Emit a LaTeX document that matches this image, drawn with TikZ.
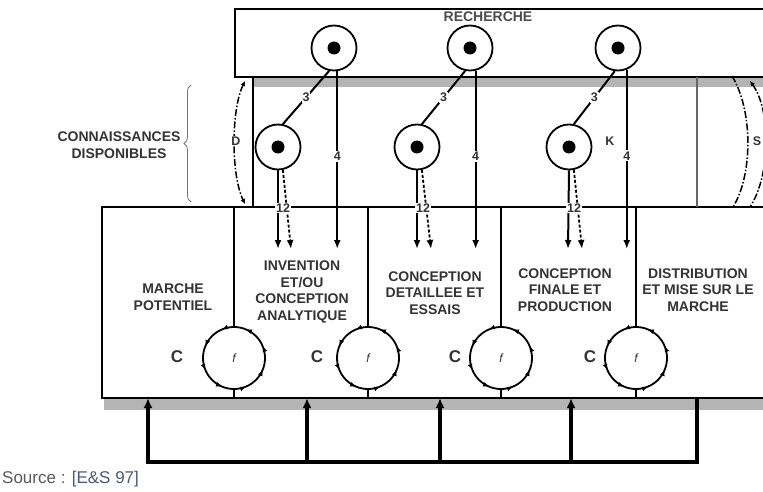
\documentclass[tikz,border=0pt]{standalone}
\usepackage{fontspec}
\setmainfont{Liberation Sans}
\usetikzlibrary{arrows.meta,decorations.markings,decorations.pathreplacing}
\definecolor{txt}{HTML}{333333}
\definecolor{src}{HTML}{5A5A5A}
\definecolor{srcb}{HTML}{4A5878}
\definecolor{shadow}{HTML}{B4B4B4}
\begin{document}
\begin{tikzpicture}[x=1pt,y=-1pt,
  box/.style={draw=black, line width=2.2pt},
  lbl/.style={font=\fontsize{14}{16.8}\selectfont\bfseries, text=txt, align=center, inner sep=0pt},
  nlab/.style={font=\fontsize{12.5}{13}\selectfont\bfseries, text=txt, fill=white, inner sep=1pt},
  clab/.style={font=\fontsize{17}{19}\selectfont\bfseries, text=txt},
  rc/.style={circle, draw, line width=1.8pt, minimum size=45pt, inner sep=0pt},
  dotc/.style={circle, fill=black, minimum size=13pt, inner sep=0pt},
  fc/.style={circle, draw, line width=1.8pt, minimum size=62pt, inner sep=0pt,
    font=\fontsize{12}{13}\selectfont\itshape, text=txt,
    postaction={decorate},
    decoration={markings, mark=between positions 0.0625 and 1 step 0.125 with {\arrow{Latex[length=6pt,width=5pt]}}}},
  ln/.style={line width=2pt},
  arr/.style={line width=2pt, -{Latex[length=9pt,width=7pt]}},
  darr/.style={line width=1.8pt, dash pattern=on 3pt off 2pt, -{Latex[length=9pt,width=7pt]}},
  arc/.style={line width=1.5pt, dash pattern=on 7pt off 2pt on 1.5pt off 2pt},
  fb/.style={line width=3.2pt},
  fbarr/.style={line width=3.2pt, -{Latex[length=10pt,width=9pt]}},
]
\useasboundingbox (0,0) rectangle (763,492);

% shadows
\fill[shadow] (253,78) rectangle (790,87);
\fill[shadow] (104,399) rectangle (790,410);

% boxes
\draw[box] (235,9) rectangle (790,77);
\draw[box] (102,207) rectangle (790,398);
\node[lbl, text=black!70] (rech) at (488,17) {RECHERCHE};

% reference coordinates
\coordinate (lowtop) at (0,207);
\coordinate (lowbot) at (0,398);
\coordinate (e4a) at (337,249);
\coordinate (e4b) at (475,249);
\coordinate (e4c) at (626,249);
\coordinate (e12a) at (278,249);
\coordinate (e12b) at (417,249);
\coordinate (e12c) at (568,249);
\coordinate (d12a) at (291,249);
\coordinate (d12b) at (431,249);
\coordinate (d12c) at (582,249);

% vertical lines in the middle band
\draw[ln] (253,77) -- (253,207);
\draw[line width=1.3pt, black!60] (697,77) -- (697,207);

% top circles
\node[rc] (r1) at (334,48) {};
\node[rc] (r2) at (470,48) {};
\node[rc] (r3) at (618,48) {};
\node[dotc] at (r1) {};
\node[dotc] at (r2) {};
\node[dotc] at (r3) {};

% knowledge circles
\node[rc] (k1) at (278,147) {};
\node[rc] (k2) at (417,147) {};
\node[rc] (k3) at (569,147) {};
\node[dotc] at (k1) {};
\node[dotc] at (k2) {};
\node[dotc] at (k3) {};

% links 3
\draw[ln] (k1.78) -- node[nlab, pos=0.5]{3} (r1.258);
\draw[ln] (k2.78) -- node[nlab, pos=0.5]{3} (r2.258);
\draw[ln] (k3.78) -- node[nlab, pos=0.5]{3} (r3.262);

% links 4
\draw[arr] (r1.278) -- (r1.278 |- e4a) node[nlab, pos=0.48]{4};
\draw[arr] (r2.284) -- (r2.284 |- e4b) node[nlab, pos=0.48]{4};
\draw[arr] (r3.292) -- (r3.292 |- e4c) node[nlab, pos=0.48]{4};

% links 12
\draw[arr] (k1.south) -- (e12a);
\draw[darr] (k1.282) -- (d12a);
\draw[arr] (k2.south) -- (e12b);
\draw[darr] (k2.282) -- (d12b);
\draw[arr] (k3.south) -- (e12c);
\draw[darr] (k3.282) -- (d12c);
\node[nlab] (l12a) at (283,208) {12};
\node[nlab] (l12b) at (423,208) {12};
\node[nlab] (l12c) at (574,208) {12};

\node[font=\fontsize{12.5}{13}\selectfont\bfseries, text=txt] (kk) at (610,141) {K};

% D arc
\coordinate (dT) at (245,81);
\coordinate (dB) at (245,204);
\draw[arc, {Latex[length=5pt,width=5pt]}-{Latex[length=5pt,width=5pt]}] (dT) .. controls (231,110) and (231,175) .. (dB);
\node[nlab] (dl) at (236,141) {D};

% right arcs
\coordinate (iT) at (732,76);
\coordinate (iB) at (733,207);
\coordinate (sT) at (750,81);
\coordinate (sB) at (750,207);
\draw[arc] (iT) .. controls (753,110) and (753,175) .. (iB);
\draw[arc, {Latex[length=5pt,width=5pt]}-] (sT) .. controls (771,110) and (771,175) .. (sB);
\node[nlab, fill=none] (sl) at (757,141) {S};

% brace and label
\draw[decorate, decoration={brace, amplitude=7pt}, line width=0.8pt, black!55] (191,202) -- (191,85);
\node[lbl] (conn) at (119,145) {CONNAISSANCES\\DISPONIBLES};

% f circles
\node[fc] (f1) at (234,358) {f};
\node[fc] (f2) at (368,358) {f};
\node[fc] (f3) at (501,358) {f};
\node[fc] (f4) at (636,358) {f};

% dividers
\draw[ln] (f1.north |- lowtop) -- (f1.north);
\draw[ln] (f2.north |- lowtop) -- (f2.north);
\draw[ln] (f3.north |- lowtop) -- (f3.north);
\draw[ln] (f4.north |- lowtop) -- (f4.north);
\draw[ln] (f1.south) -- (f1.south |- lowbot);
\draw[ln] (f2.south) -- (f2.south |- lowbot);
\draw[ln] (f3.south) -- (f3.south |- lowbot);
\draw[ln] (f4.south) -- (f4.south |- lowbot);

% C labels
\node[clab] (c1) at (177,357) {C};
\node[clab] (c2) at (317,357) {C};
\node[clab] (c3) at (455,357) {C};
\node[clab] (c4) at (590,357) {C};

% phase texts
\node[lbl] (m1) at (173,297) {MARCHE\\POTENTIEL};
\node[lbl] (m2) at (302,292) {INVENTION\\ET/OU\\CONCEPTION\\ANALYTIQUE};
\node[lbl] (m3) at (435,293) {CONCEPTION\\DETAILLEE ET\\ESSAIS};
\node[lbl] (m4) at (565,290) {CONCEPTION\\FINALE ET\\PRODUCTION};
\node[lbl] (m5) at (698,290) {DISTRIBUTION\\ET MISE SUR LE\\MARCHE};

% feedback loop
\coordinate (b1) at (148,462);
\coordinate (b2) at (307,462);
\coordinate (b3) at (440,462);
\coordinate (b4) at (571,462);
\coordinate (b5) at (697,462);
\draw[fb] ([xshift=-1.6pt]b1) -- (b5) -- (b5 |- lowbot);
\draw[fbarr] ([yshift=1.6pt]b1) -- (b1 |- lowbot);
\draw[fbarr] (b2) -- (b2 |- lowbot);
\draw[fbarr] (b3) -- (b3 |- lowbot);
\draw[fbarr] (b4) -- (b4 |- lowbot);

% source
\node[anchor=west, inner sep=0pt, font=\fontsize{17}{19}\selectfont] (srcl) at (2,479) {\textcolor{src}{Source :} \textcolor{srcb}{[E\&S 97]}};
\end{tikzpicture}
\end{document}
